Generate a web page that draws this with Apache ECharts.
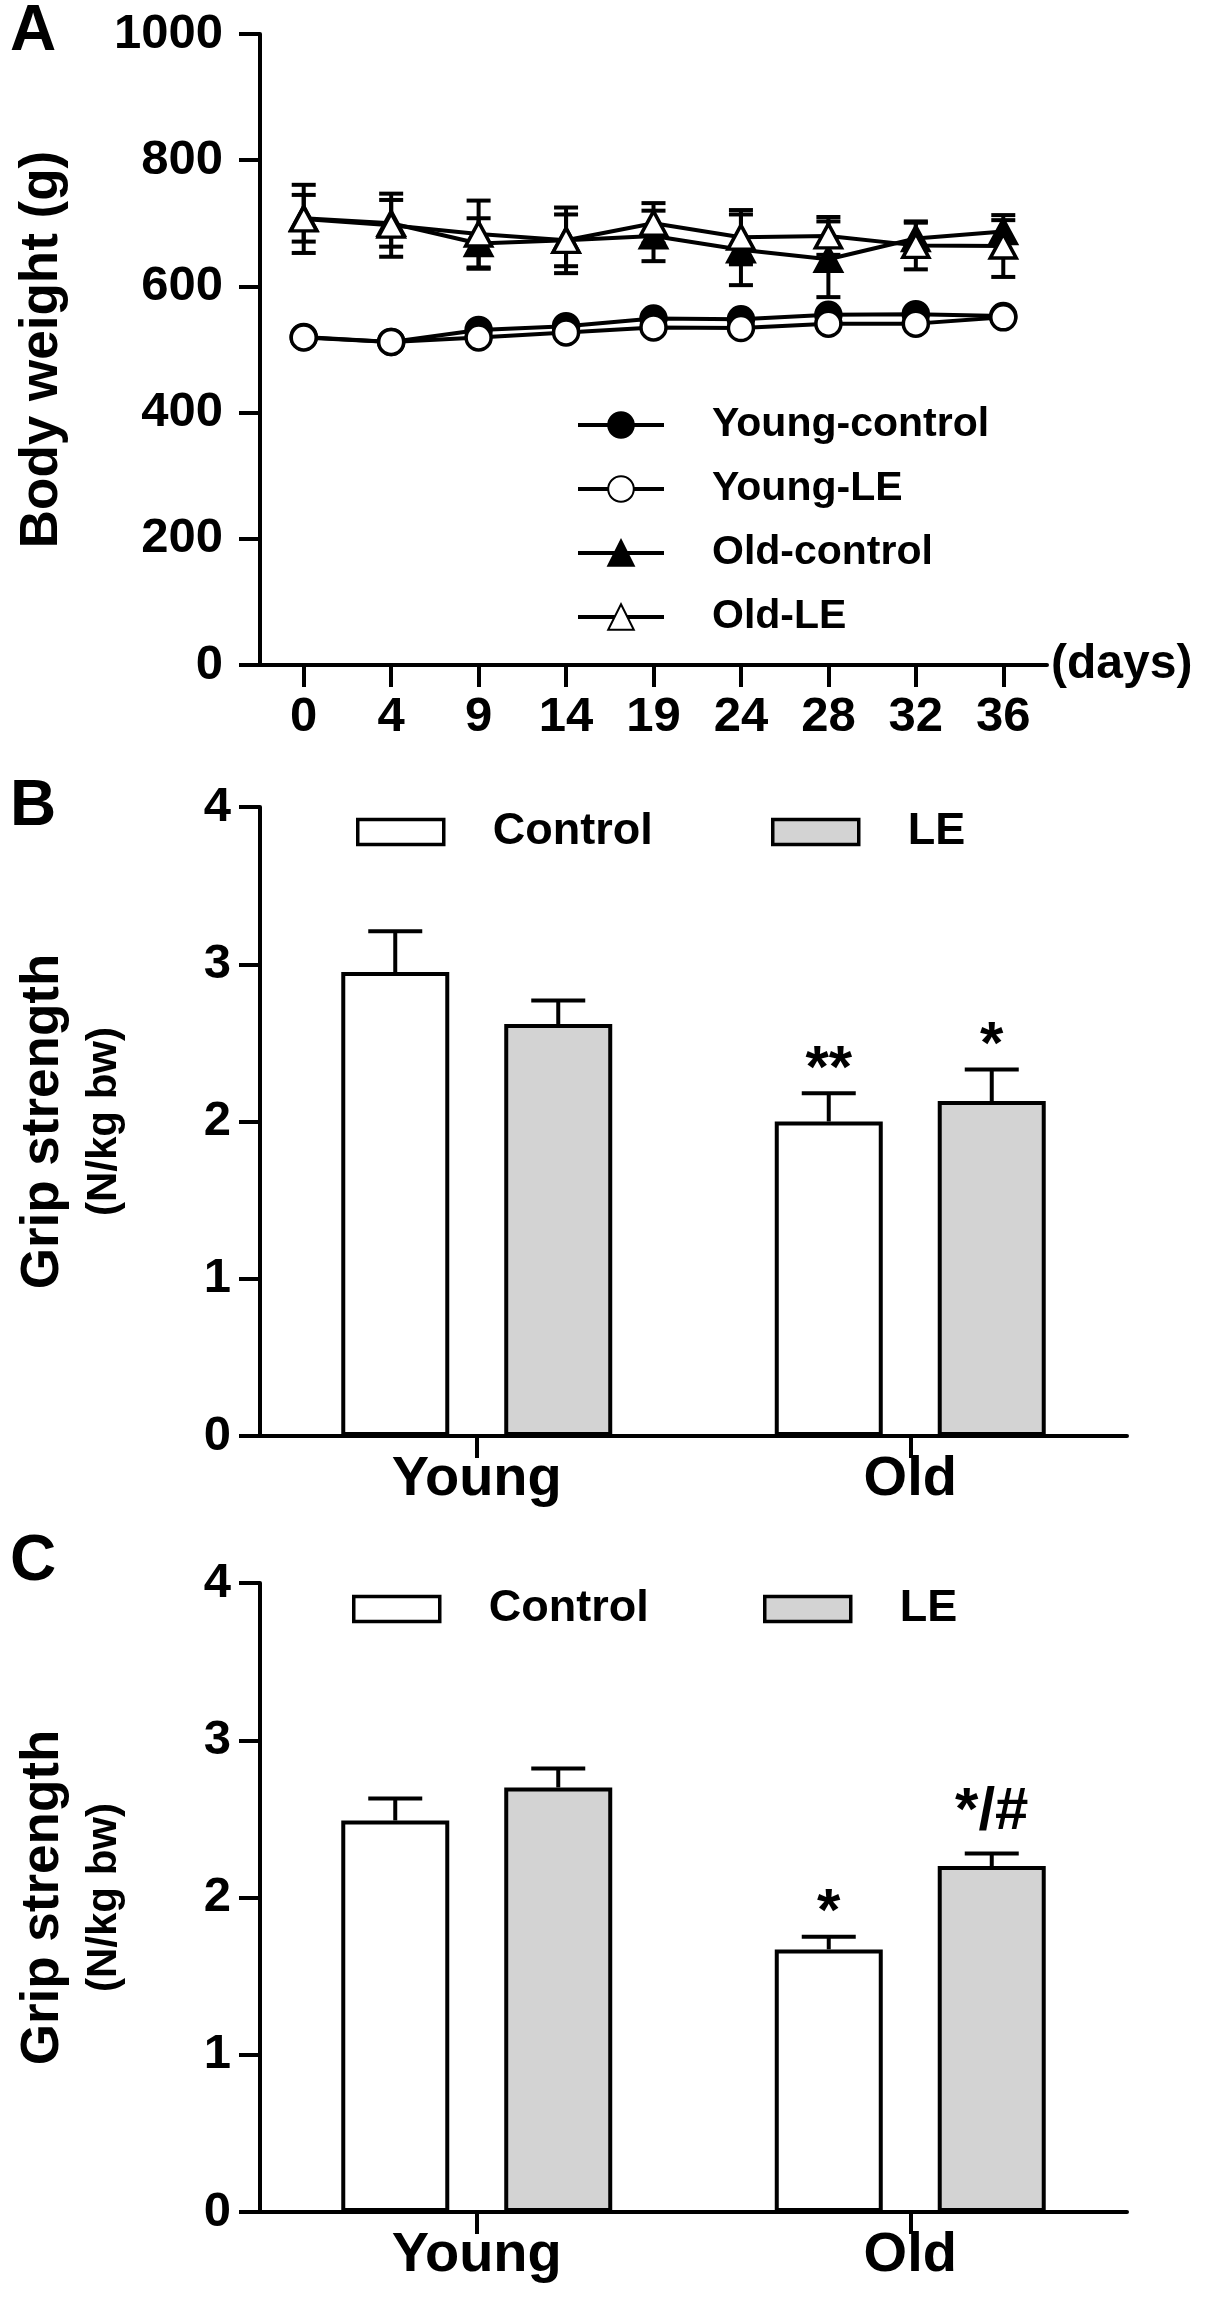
<!DOCTYPE html>
<html>
<head>
<meta charset="utf-8">
<script src="https://cdn.jsdelivr.net/npm/echarts@6/dist/echarts.min.js"></script>
<style>
  html, body { margin: 0; padding: 0; background: #fff; }
  #chart { width: 1205px; height: 2314px; }
</style>
</head>
<body>
<div id="chart"></div>
<script>
// Panel A - body weight (mean, SEM)
const days = ['0', '4', '9', '14', '19', '24', '28', '32', '36'];
const youngControl    = [520, 512, 531, 537, 549, 548, 555, 556, 553];
const youngControlSem = [6, 5, 6, 6, 7, 6, 6, 7, 6];
const youngLE         = [519, 512, 519, 527, 535, 534, 541, 541, 551];
const youngLESem      = [6, 5, 6, 6, 6, 6, 7, 6, 6];
const oldControl      = [708, 700, 668, 673, 680, 658, 643, 676, 687];
const oldControlSem   = [37, 37, 40, 41, 40, 56, 60, 25, 18];
const oldLE           = [707, 697, 683, 673, 700, 678, 680, 665, 664];
const oldLESem        = [54, 50, 53, 52, 32, 43, 30, 38, 49];

// Panels B and C - grip strength
const groups = ['Young', 'Old'];
const bControl      = [2.95, 2.00];
const bControlSem   = [0.26, 0.18];
const bControlMarks = ['', '**'];
const bLE           = [2.62, 2.13];
const bLESem        = [0.15, 0.20];
const bLEMarks      = ['', '*'];
const cControl      = [2.49, 1.67];
const cControlSem   = [0.14, 0.08];
const cControlMarks = ['', '*'];
const cLE           = [2.70, 2.20];
const cLESem        = [0.12, 0.08];
const cLEMarks      = ['', '*/#'];

const FONT = '"Liberation Sans", Arial, Helvetica, sans-serif';
const BAR_W = 108;
const BAR_GAP = 55;
const OFF = (BAR_W + BAR_GAP) / 2;

function txt(size, extra) {
  return Object.assign({ fontFamily: FONT, fontWeight: 'bold', fontSize: size, color: '#000' }, extra || {});
}
const axisLine = { show: true, onZero: false, lineStyle: { color: '#000', width: 4 } };
const axisTick = { show: true, length: 21, lineStyle: { color: '#000', width: 4 } };
const plain = v => String(v);

function withSem(vals, sem) {
  return vals.map((v, i) => [i, v, sem[i]]);
}

// error bar (both directions) for the time course
function lineErr(params, api) {
  const i = api.value(0), m = api.value(1), s = api.value(2);
  const hi = api.coord([i, m + s]);
  const lo = api.coord([i, m - s]);
  const x = hi[0];
  const st = { stroke: '#000', lineWidth: 4 };
  return {
    type: 'group',
    children: [
      { type: 'line', shape: { x1: x, y1: hi[1], x2: x, y2: lo[1] }, style: st },
      { type: 'line', shape: { x1: x - 12, y1: hi[1], x2: x + 12, y2: hi[1] }, style: st },
      { type: 'line', shape: { x1: x - 12, y1: lo[1], x2: x + 12, y2: lo[1] }, style: st }
    ]
  };
}

// upward error bar + significance mark for the bar panels
function barErr(offset, marks) {
  return function (params, api) {
    const i = api.value(0), m = api.value(1), s = api.value(2);
    const base = api.coord([i, m]);
    const top = api.coord([i, m + s]);
    const x = base[0] + offset;
    const mark = marks[params.dataIndex];
    // a lone asterisk sits high in its box, so it is pulled down closer to the cap
    const ty = mark.indexOf('#') >= 0 ? top[1] - 11 : top[1] + 7;
    const st = { stroke: '#000', lineWidth: 4 };
    return {
      type: 'group',
      children: [
        { type: 'line', shape: { x1: x, y1: base[1], x2: x, y2: top[1] }, style: st },
        { type: 'line', shape: { x1: x - 27, y1: top[1], x2: x + 27, y2: top[1] }, style: st },
        {
          type: 'text',
          style: {
            text: mark, x: x, y: ty,
            align: 'center', verticalAlign: 'bottom',
            fill: '#000', font: 'bold 60px ' + FONT
          }
        }
      ]
    };
  };
}

function lineSeries(name, data, symbol, filled) {
  return {
    name: name, type: 'line', xAxisIndex: 0, yAxisIndex: 0,
    data: data,
    symbol: symbol,
    symbolSize: symbol === 'triangle' ? [26, 24] : 25,
    showSymbol: true,
    lineStyle: { color: '#000', width: 4 },
    itemStyle: { color: filled ? '#000' : '#fff', borderColor: '#000', borderWidth: 3.5 },
    z: 3
  };
}

function barSeries(name, data, idx, fill) {
  return {
    name: name, type: 'bar', xAxisIndex: idx, yAxisIndex: idx,
    data: data, barWidth: BAR_W, barGap: (BAR_GAP / BAR_W * 100).toFixed(1) + '%',
    itemStyle: { color: fill, borderColor: '#000', borderWidth: 4 },
    z: 2
  };
}

function errSeries(data, idx, render) {
  return {
    type: 'custom', name: 'err', xAxisIndex: idx, yAxisIndex: idx,
    data: data, encode: { x: 0, y: 1 }, renderItem: render, z: 1, silent: true
  };
}

function barLegend(name, left, top) {
  return {
    data: [name], left: left, top: top, padding: 0,
    icon: 'rect', itemWidth: 86, itemHeight: 25,
    itemStyle: { borderColor: '#000', borderWidth: 3.5 },
    textStyle: txt(45, { lineHeight: 46, padding: [0, 0, 0, 44] })
  };
}

function gripYAxis(idx) {
  return {
    type: 'value', gridIndex: idx, min: 0, max: 4, interval: 1,
    axisLine: axisLine, axisTick: axisTick, splitLine: { show: false },
    axisLabel: txt(49, { margin: 29, formatter: plain }),
    name: '{a|Grip strength}\n{b|(N/kg bw)}',
    nameLocation: 'middle', nameRotate: 90, nameGap: 131,
    nameTextStyle: {
      rich: {
        a: txt(53, { lineHeight: 72 }),
        b: txt(42, { lineHeight: 50 })
      }
    }
  };
}

function groupXAxis(idx) {
  return {
    type: 'category', gridIndex: idx, data: groups, boundaryGap: true,
    axisLine: axisLine,
    axisTick: { show: true, alignWithLabel: true, length: 22, lineStyle: { color: '#000', width: 4 } },
    axisLabel: txt(56, { margin: 16 })
  };
}

const chart = echarts.init(document.getElementById('chart'), null, { renderer: 'canvas' });

chart.setOption({
  backgroundColor: '#fff',
  animation: false,
  title: [
    { text: 'A', left: 10, top: 0, padding: 0, textStyle: txt(64) },
    { text: 'B', left: 10, top: 775, padding: 0, textStyle: txt(64) },
    { text: 'C', left: 10, top: 1530, padding: 0, textStyle: txt(64) }
  ],
  grid: [
    { left: 260, top: 34, width: 787, height: 631 },
    { left: 260, top: 807, width: 867, height: 629 },
    { left: 260, top: 1583, width: 867, height: 629 }
  ],
  legend: [
    {
      orient: 'vertical', left: 576, top: 403, padding: 0,
      itemWidth: 86, itemHeight: 32, itemGap: 20,
      data: ['Young-control', 'Young-LE', 'Old-control', 'Old-LE'],
      lineStyle: { color: '#000', width: 4 },
      textStyle: txt(41, { lineHeight: 44, padding: [0, 0, 0, 43] })
    },
    barLegend('Control', 356, 809),
    barLegend('LE', 771, 809),
    barLegend('Control', 352, 1586),
    barLegend('LE', 763, 1586)
  ],
  xAxis: [
    {
      type: 'category', gridIndex: 0, data: days, boundaryGap: true,
      axisLine: axisLine,
      axisTick: { show: true, alignWithLabel: true, length: 22, lineStyle: { color: '#000', width: 4 } },
      axisLabel: txt(49, { margin: 28 }),
      name: '(days)', nameLocation: 'end', nameGap: 4,
      nameTextStyle: txt(48, { verticalAlign: 'middle', padding: [106, 0, 0, 0] })
    },
    groupXAxis(1),
    groupXAxis(2)
  ],
  yAxis: [
    {
      type: 'value', gridIndex: 0, min: 0, max: 1000, interval: 200,
      axisLine: axisLine, axisTick: axisTick, splitLine: { show: false },
      axisLabel: txt(49, { margin: 37, formatter: plain }),
      name: 'Body weight (g)', nameLocation: 'middle', nameRotate: 90, nameGap: 192,
      nameTextStyle: txt(53, { lineHeight: 52 })
    },
    gripYAxis(1),
    gripYAxis(2)
  ],
  series: [
    errSeries(withSem(youngControl, youngControlSem), 0, lineErr),
    errSeries(withSem(youngLE, youngLESem), 0, lineErr),
    errSeries(withSem(oldControl, oldControlSem), 0, lineErr),
    errSeries(withSem(oldLE, oldLESem), 0, lineErr),
    lineSeries('Young-control', youngControl, 'circle', true),
    lineSeries('Young-LE', youngLE, 'circle', false),
    lineSeries('Old-control', oldControl, 'triangle', true),
    lineSeries('Old-LE', oldLE, 'triangle', false),

    barSeries('Control', bControl, 1, '#ffffff'),
    barSeries('LE', bLE, 1, '#d3d3d3'),
    errSeries(withSem(bControl, bControlSem), 1, barErr(-OFF, bControlMarks)),
    errSeries(withSem(bLE, bLESem), 1, barErr(OFF, bLEMarks)),

    barSeries('Control', cControl, 2, '#ffffff'),
    barSeries('LE', cLE, 2, '#d3d3d3'),
    errSeries(withSem(cControl, cControlSem), 2, barErr(-OFF, cControlMarks)),
    errSeries(withSem(cLE, cLESem), 2, barErr(OFF, cLEMarks))
  ]
});
</script>
</body>
</html>
